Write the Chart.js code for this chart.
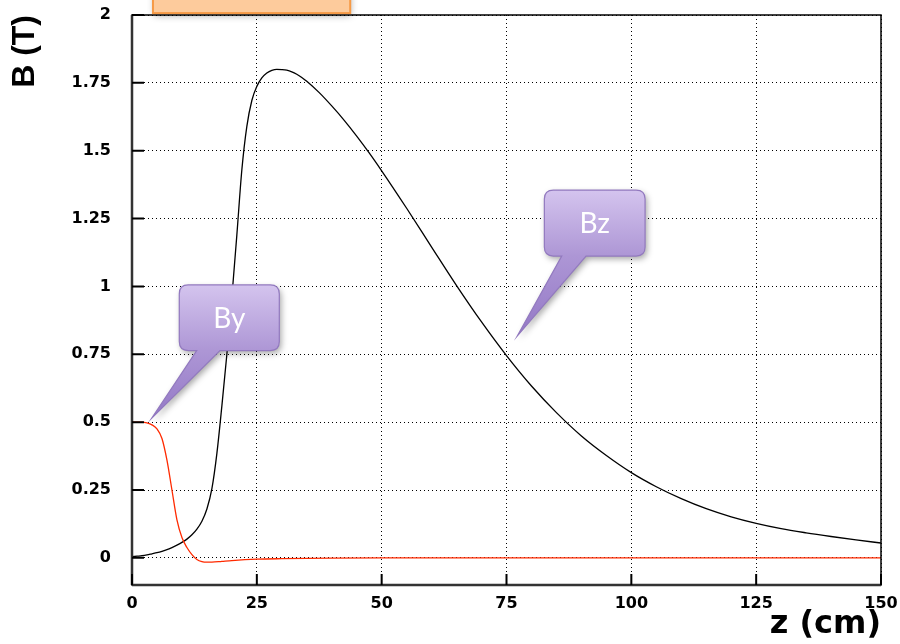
<!DOCTYPE html>
<html>
<head>
<meta charset="utf-8">
<script src="https://cdn.jsdelivr.net/npm/chart.js@4/dist/chart.umd.min.js"></script>
<style>
  html, body { margin: 0; padding: 0; background: #fff; }
  #c { display: block; }
</style>
</head>
<body>
<canvas id="c" width="900" height="644"></canvas>
<script>
// ---- data ----
const zBz = [0, 1, 2, 3, 4, 5, 6, 7, 8, 9, 10, 11, 12, 13, 14, 15, 16, 17, 18, 19, 20, 21, 22, 23, 24, 25, 26, 27, 28, 29, 30,
             31, 32, 33, 34, 35, 37.5, 40, 42.5, 45, 47.5, 50, 55, 60, 65, 70, 75, 80, 85, 90, 95, 100, 105, 110, 115, 120, 125, 130, 135, 140, 145, 150];
const Bz  = [0.004, 0.006, 0.008, 0.011, 0.015, 0.019, 0.024, 0.030, 0.038, 0.047, 0.057, 0.069, 0.085, 0.106, 0.135, 0.18, 0.255, 0.385, 0.56, 0.75, 0.96, 1.19, 1.43, 1.59, 1.685, 1.737, 1.768, 1.786, 1.796, 1.800, 1.799,
             1.7965, 1.7907, 1.7817, 1.770, 1.756, 1.714, 1.665, 1.612, 1.554, 1.492, 1.426, 1.288, 1.145, 1.003, 0.869, 0.745, 0.633, 0.535, 0.449, 0.377, 0.314, 0.262, 0.218, 0.181, 0.151, 0.127, 0.1075, 0.0922, 0.0787, 0.0662, 0.0547];
const zBy = [0, 1, 2, 3, 4, 5, 6, 7, 8, 9, 10, 11, 12, 13, 14, 15, 16, 18, 20, 25, 30, 40, 50, 150];
const By  = [0.5, 0.5, 0.5, 0.497, 0.49, 0.475, 0.44, 0.36, 0.25, 0.14, 0.075, 0.038, 0.012, -0.006, -0.014, -0.016, -0.016, -0.013, -0.01, -0.005, -0.003, -0.001, 0, 0];
const xTicks = [0, 25, 50, 75, 100, 125, 150];
const yTicks = [0, 0.25, 0.5, 0.75, 1, 1.25, 1.5, 1.75, 2];
const yTickLabels = ['0', '0.25', '0.5', '0.75', '1', '1.25', '1.5', '1.75', '2'];
const xTitle = 'z (cm)';
const yTitle = 'B (T)';
const calloutLabels = ['By', 'Bz'];

// ---- decoration geometry (in data units) ----
const orangeBox = { x0: 4.2, x1: 43.7, y0: 2.007, y1: 2.3 };
const calloutShapes = [
  { x0: 9.47, x1: 29.5, yTop: 1.0055, yBot: 0.7635, b0: 12.96, b1: 17.62, tipX: 3.95, tipY: 0.5146 },
  { x0: 82.58, x1: 102.75, yTop: 1.355, yBot: 1.112, b0: 86.06, b1: 90.93, tipX: 77.17, tipY: 0.8177 }
];

const tickFont = { family: 'DejaVu Sans', weight: 'bold', size: 16 };

const framePlugin = {
  id: 'frameAndNotes',
  afterDatasetsDraw(chart) {
    const ctx = chart.ctx;
    const a = chart.chartArea;
    const xs = chart.scales.x, ys = chart.scales.y;
    ctx.save();
    ctx.setLineDash([]);
    ctx.strokeStyle = '#000';
    ctx.lineWidth = 1.5;
    ctx.strokeRect(a.left, a.top, a.right - a.left, a.bottom - a.top);
    ctx.strokeStyle = '#333';
    ctx.lineWidth = 2.5;
    ctx.beginPath();
    ctx.moveTo(a.left, a.bottom); ctx.lineTo(a.right, a.bottom);
    ctx.moveTo(a.left, a.top); ctx.lineTo(a.left, a.bottom);
    ctx.stroke();
    ctx.strokeStyle = '#000';
    ctx.lineWidth = 2;
    ctx.beginPath();
    yTicks.forEach(v => {
      const y = ys.getPixelForValue(v);
      ctx.moveTo(a.left, y); ctx.lineTo(a.left + 12, y);
    });
    xTicks.forEach(v => {
      const x = xs.getPixelForValue(v);
      ctx.moveTo(x, a.bottom); ctx.lineTo(x, a.bottom - 11);
    });
    ctx.stroke();
    ctx.restore();

    // orange box (cropped at top)
    ctx.save();
    const ox0 = xs.getPixelForValue(orangeBox.x0), ox1 = xs.getPixelForValue(orangeBox.x1);
    const oy0 = ys.getPixelForValue(orangeBox.y0), oy1 = ys.getPixelForValue(orangeBox.y1);
    ctx.shadowColor = 'rgba(0,0,0,0.35)';
    ctx.shadowBlur = 7; ctx.shadowOffsetX = 1; ctx.shadowOffsetY = 3;
    ctx.fillStyle = '#FDCB9C';
    ctx.fillRect(ox0, oy1, ox1 - ox0, oy0 - oy1);
    ctx.shadowColor = 'transparent';
    ctx.strokeStyle = '#F69A46';
    ctx.lineWidth = 2;
    ctx.strokeRect(ox0, oy1, ox1 - ox0, oy0 - oy1);
    ctx.restore();

    // callouts
    calloutShapes.forEach((c, i) => {
      const L = xs.getPixelForValue(c.x0), R = xs.getPixelForValue(c.x1);
      const T = ys.getPixelForValue(c.yTop), B = ys.getPixelForValue(c.yBot);
      const p0 = xs.getPixelForValue(c.b0), p1 = xs.getPixelForValue(c.b1);
      const tx = xs.getPixelForValue(c.tipX), ty = ys.getPixelForValue(c.tipY);
      const r = 9;
      ctx.save();
      ctx.beginPath();
      ctx.moveTo(L + r, T);
      ctx.lineTo(R - r, T);
      ctx.quadraticCurveTo(R, T, R, T + r);
      ctx.lineTo(R, B - r);
      ctx.quadraticCurveTo(R, B, R - r, B);
      ctx.lineTo(p1, B);
      ctx.lineTo(tx, ty);
      ctx.lineTo(p0, B);
      ctx.lineTo(L + r, B);
      ctx.quadraticCurveTo(L, B, L, B - r);
      ctx.lineTo(L, T + r);
      ctx.quadraticCurveTo(L, T, L + r, T);
      ctx.closePath();
      const g = ctx.createLinearGradient(0, T, 0, ty);
      g.addColorStop(0, '#D4C4EE');
      g.addColorStop(Math.min(1, (B - T) / (ty - T)), '#AD96D5');
      g.addColorStop(1, '#9479C6');
      ctx.shadowColor = 'rgba(0,0,0,0.35)';
      ctx.shadowBlur = 6; ctx.shadowOffsetX = 2; ctx.shadowOffsetY = 3;
      ctx.fillStyle = g;
      ctx.fill();
      ctx.shadowColor = 'transparent';
      ctx.strokeStyle = '#9279BF';
      ctx.lineWidth = 1.2;
      ctx.stroke();
      ctx.fillStyle = '#fff';
      ctx.font = '28px Lato, "Open Sans", sans-serif';
      ctx.textAlign = 'center';
      ctx.textBaseline = 'middle';
      ctx.fillText(calloutLabels[i], (L + R) / 2, (T + B) / 2 + 1);
      ctx.restore();
    });
  }
};

new Chart(document.getElementById('c'), {
  type: 'line',
  data: {
    datasets: [
      {
        label: 'By',
        data: zBy.map((z, i) => ({ x: z, y: By[i] })),
        borderColor: '#FF2A00',
        borderWidth: 1.3,
        pointRadius: 0,
        cubicInterpolationMode: 'monotone',
        fill: false,
        order: 0
      },
      {
        label: 'Bz',
        data: zBz.map((z, i) => ({ x: z, y: Bz[i] })),
        borderColor: '#000',
        borderWidth: 1.3,
        pointRadius: 0,
        cubicInterpolationMode: 'monotone',
        fill: false,
        order: 1
      }
    ]
  },
  options: {
    responsive: false,
    animation: false,
    devicePixelRatio: 1,
    layout: { padding: { top: 15, right: 19, left: 0, bottom: 0 } },
    plugins: { legend: { display: false }, tooltip: { enabled: false } },
    scales: {
      x: {
        type: 'linear',
        min: 0, max: 150,
        afterBuildTicks: s => { s.ticks = xTicks.map(v => ({ value: v })); },
        afterFit: s => { s.height = 59; s.paddingLeft = 0; s.paddingRight = 0; },
        ticks: {
          font: tickFont, color: '#000', padding: 9,
          maxRotation: 0, autoSkip: false,
          callback: v => String(v)
        },
        grid: { color: '#000', lineWidth: 1, drawTicks: false },
        border: { display: false, dash: [1, 3] },
        title: {
          display: true, text: xTitle, align: 'end', color: '#000',
          font: { family: 'DejaVu Sans', weight: 'bold', size: 32 },
          padding: { top: 0, bottom: 0 }
        }
      },
      y: {
        type: 'linear',
        min: -0.1, max: 2,
        afterBuildTicks: s => { s.ticks = yTicks.map(v => ({ value: v })); },
        afterFit: s => { s.width = 132; s.paddingTop = 0; s.paddingBottom = 0; },
        ticks: {
          font: tickFont, color: '#000', padding: 21,
          autoSkip: false,
          callback: (v, i) => yTickLabels[i]
        },
        grid: { color: '#000', lineWidth: 1, drawTicks: false },
        border: { display: false, dash: [1, 3] },
        title: {
          display: true, text: yTitle, align: 'end', color: '#000',
          font: { family: 'Liberation Sans', weight: 'bold', size: 32 },
          padding: { top: 6, bottom: 0 }
        }
      }
    }
  },
  plugins: [framePlugin]
});
</script>
</body>
</html>
